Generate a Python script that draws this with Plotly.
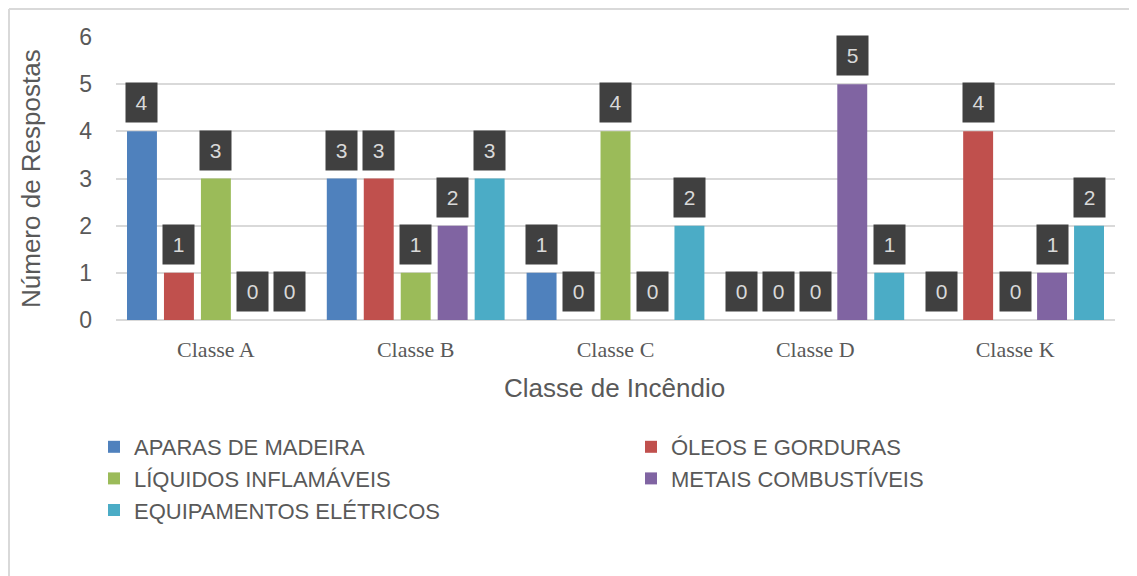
import plotly.graph_objects as go

categories = ["Classe A", "Classe B", "Classe C", "Classe D", "Classe K"]
series_names = ["APARAS DE MADEIRA", "ÓLEOS E GORDURAS", "LÍQUIDOS INFLAMÁVEIS",
                "METAIS COMBUSTÍVEIS", "EQUIPAMENTOS ELÉTRICOS"]
aparas = [4, 3, 1, 0, 0]
oleos = [1, 3, 0, 0, 4]
liquidos = [3, 1, 4, 0, 0]
metais = [0, 2, 0, 5, 1]
equipamentos = [0, 3, 2, 1, 2]
series_values = [aparas, oleos, liquidos, metais, equipamentos]
colors = ["#4F81BD", "#C0504D", "#9BBB59", "#8064A2", "#4BACC6"]
legend_of_series = ["legend", "legend2", "legend", "legend2", "legend"]
y_ticks = [0, 1, 2, 3, 4, 5, 6]

# page layout (page pixels); the html body adds an 8px offset
OFF = 8
PAGE_W, PAGE_H = 1137, 576
PLOT_L, PLOT_R, PLOT_T, PLOT_B = 116, 1115, 37, 320
W, H = PAGE_W - OFF, PAGE_H - OFF
ML, MT = PLOT_L - OFF, PLOT_T - OFF
MR, MB = PAGE_W - PLOT_R, PAGE_H - PLOT_B
PW, PH = PLOT_R - PLOT_L, PLOT_B - PLOT_T
BARGAP = 0.075
BARGROUPGAP = 0.19

def px_x(px):
    return (px - PLOT_L) / PW

def px_y(py):
    return (PLOT_B - py) / PH

fig = go.Figure()
n = len(series_names)
annotations = []
for i, (name, vals, col, lg) in enumerate(zip(series_names, series_values, colors, legend_of_series)):
    fig.add_trace(go.Bar(x=categories, y=vals, name=name, legend=lg,
                         marker=dict(color=col, line=dict(width=0))))
    offset = (i - (n - 1) / 2) * (1 - BARGAP) / n
    for ci, v in enumerate(vals):
        annotations.append(dict(
            x=ci + offset, y=v, xref="x", yref="y", text=str(v),
            showarrow=False, yanchor="bottom", xanchor="center", yshift=8,
            width=31, height=39, bgcolor="#404040", borderpad=0,
            font=dict(family="Liberation Sans, Arial", size=21, color="#D9D9D9"),
        ))

annotations.append(dict(
    x=px_x(614), y=px_y(388), xref="paper", yref="paper", text="Classe de Incêndio",
    showarrow=False, xanchor="center", yanchor="middle",
    font=dict(family="Liberation Sans, Arial", size=26, color="#595959")))
annotations.append(dict(
    x=px_x(31), y=px_y(179), xref="paper", yref="paper", text="Número de Respostas",
    showarrow=False, xanchor="center", yanchor="middle", textangle=-90,
    font=dict(family="Liberation Sans, Arial", size=26, color="#595959")))

shapes = [
    dict(type="line", xref="paper", yref="paper", x0=px_x(9), x1=px_x(9),
         y0=px_y(9), y1=px_y(PAGE_H + 5), line=dict(color="#D9D9D9", width=2)),
    dict(type="line", xref="paper", yref="paper", x0=px_x(9), x1=px_x(PAGE_W + 5),
         y0=px_y(9), y1=px_y(9), line=dict(color="#D9D9D9", width=2)),
]

legend_style = dict(orientation="v", xanchor="left", yanchor="top",
                    font=dict(family="Liberation Sans, Arial", size=22, color="#595959"),
                    bgcolor="rgba(0,0,0,0)", itemclick=False, itemdoubleclick=False,
                    borderwidth=0)

fig.update_layout(
    width=W, height=H,
    margin=dict(l=ML, r=MR, t=MT, b=MB, pad=0, autoexpand=False),
    paper_bgcolor="white", plot_bgcolor="white",
    barmode="group", bargap=BARGAP, bargroupgap=BARGROUPGAP,
    annotations=annotations, shapes=shapes,
    showlegend=True,
    legend=dict(x=px_x(94), y=px_y(426), **legend_style),
    legend2=dict(x=px_x(631), y=px_y(426), **legend_style),
    xaxis=dict(showgrid=False, showline=False, ticks="", ticklabelstandoff=14,
               tickfont=dict(family="Liberation Serif, Times New Roman", size=22, color="#595959"),
               fixedrange=True),
    yaxis=dict(range=[0, 6], tickvals=y_ticks, showgrid=True, gridcolor="#D9D9D9", gridwidth=2,
               zeroline=True, zerolinecolor="#D9D9D9", zerolinewidth=2, showline=False,
               ticks="", ticklabelstandoff=23,
               tickfont=dict(family="Liberation Sans, Arial", size=23, color="#595959"),
               fixedrange=True),
)

fig.write_html("out.html", config={"displayModeBar": False})
